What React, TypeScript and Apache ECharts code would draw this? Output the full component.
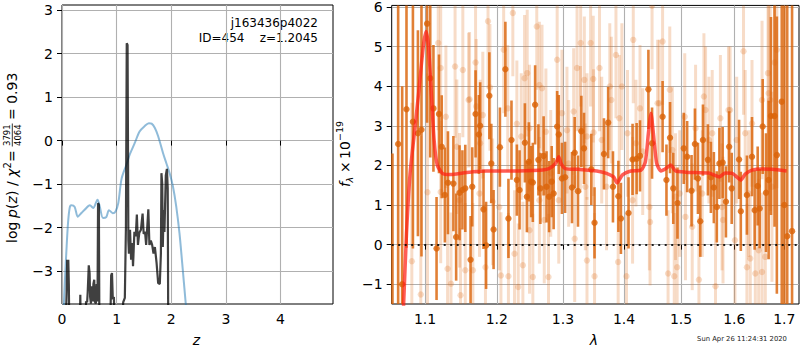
import React, { useEffect, useRef } from "react";
import * as echarts from "echarts";

const FONT = '"DejaVu Sans", sans-serif';

// ---- tick values ----
const zTicks = [0, 1, 2, 3, 4];
const pTicks = [-3, -2, -1, 0, 1, 2, 3];
const lamTicks = [1.1, 1.2, 1.3, 1.4, 1.5, 1.6, 1.7];
const fTicks = [-1, 0, 1, 2, 3, 4, 5, 6];

// ---- left panel: log p(z) curves ----
const blueZ = [0.02, 0.05, 0.08, 0.11, 0.14, 0.17, 0.23, 0.29, 0.36, 0.415, 0.51, 0.57, 0.65, 0.69, 0.75, 0.81, 0.86, 0.93, 0.98, 1.03, 1.09, 1.18, 1.24, 1.33, 1.42, 1.51, 1.59, 1.64, 1.70, 1.76, 1.85, 1.91, 1.97, 2.03, 2.09, 2.15, 2.20, 2.265, 2.32];
const blueLogP = [-4.2, -3.3, -2.55, -1.9, -1.55, -1.49, -1.52, -1.75, -1.66, -1.59, -1.49, -1.55, -1.36, -1.51, -1.78, -1.76, -1.6, -1.67, -1.63, -1.44, -0.88, -0.55, -0.32, -0.06, 0.21, 0.33, 0.40, 0.39, 0.29, 0.10, -0.29, -0.52, -0.75, -1.05, -1.51, -2.13, -2.82, -3.75, -4.5];

const greyZ = [0.06, 0.085, 0.095, 0.105, 0.115, 0.125, 0.135, 0.325, 0.335, 0.345, 0.43, 0.44, 0.46, 0.47, 0.49, 0.505, 0.515, 0.53, 0.545, 0.56, 0.575, 0.59, 0.6, 0.62, 0.635, 0.65, 0.66, 0.675, 0.685, 0.88, 0.9, 0.915, 0.93, 0.95, 0.965, 1.1, 1.12, 1.15, 1.17, 1.185, 1.2, 1.215, 1.225, 1.245, 1.265, 1.285, 1.3, 1.325, 1.35, 1.37, 1.39, 1.415, 1.445, 1.475, 1.495, 1.52, 1.54, 1.56, 1.58, 1.6, 1.625, 1.65, 1.675, 1.7, 1.73, 1.76, 1.79, 1.81, 1.82, 1.835, 1.845, 1.86, 1.875, 1.9, 1.92, 1.935, 1.945];
const greyLogP = [-4.5, -3.5, -2.74, -3.3, -2.74, -3.3, -4.5, -4.5, -3.55, -4.5, -4.5, -3.7, -3.72, -3.5, -2.87, -3.05, -3.6, -3.75, -3.35, -3.7, -3.3, -3.2, -3.7, -3.75, -3.3, -3.7, -1.44, -1.47, -4.5, -4.5, -3.1, -3.05, -3.65, -3.6, -4.5, -4.5, -3.72, -3.62, -2.0, 2.24, 2.2, -2.3, -2.6, -2.05, -2.74, -2.36, -2.89, -2.1, -2.2, -1.7, -2.4, -2.12, -2.05, -1.68, -2.15, -2.1, -2.4, -2.0, -1.58, -2.4, -2.3, -2.4, -2.6, -2.45, -2.8, -3.28, -3.3, -2.6, -0.75, -1.0, -2.45, -1.6, -2.1, -0.8, -0.65, -1.1, -4.5];

// ---- right panel: spectrum ----
const darkLam = [1.0575, 1.0648, 1.07, 1.0756, 1.084, 1.0906, 1.0953, 1.1028, 1.107, 1.1113, 1.1155, 1.1188, 1.1225, 1.1268, 1.131, 1.1385, 1.1423, 1.147, 1.151, 1.155, 1.1624, 1.1648, 1.1695, 1.1742, 1.176, 1.1808, 1.1845, 1.1892, 1.192, 1.1953, 1.2045, 1.2125, 1.217, 1.2215, 1.2295, 1.2335, 1.2415, 1.2445, 1.2475, 1.251, 1.2535, 1.257, 1.262, 1.265, 1.27, 1.2745, 1.2785, 1.2825, 1.2855, 1.291, 1.2935, 1.2985, 1.3035, 1.3144, 1.3187, 1.324, 1.3294, 1.3337, 1.3455, 1.3508, 1.3663, 1.3733, 1.3813, 1.3904, 1.3947, 1.4076, 1.4145, 1.4215, 1.4273, 1.4419, 1.4483, 1.4669, 1.4738, 1.4802, 1.486, 1.4936, 1.505, 1.5112, 1.5193, 1.5255, 1.5311, 1.5354, 1.5404, 1.5497, 1.5553, 1.5609, 1.5665, 1.5714, 1.5776, 1.5839, 1.5901, 1.595, 1.6093, 1.6127, 1.6247, 1.6347, 1.64, 1.646, 1.65, 1.656, 1.6627, 1.668, 1.6727, 1.68, 1.6847, 1.6947, 1.7, 1.706, 1.716];
const darkFlux = [-2.5, 2.54, -1.0, 3.42, 3.1, 2.81, 2.9, 5.58, 4.2, 3.44, -0.1, 3.3, 2.47, 1.25, 1.56, 1.54, 0.19, 1.31, 1.38, 1.42, -0.38, 1.46, 3.3, 2.78, 3.0, 0.89, -0.02, 3.76, 2.05, 0.38, 2.46, 4.43, 0.66, 2.64, 1.63, 1.38, 2.57, 1.21, 2.09, 1.59, 1.57, 3.53, 2.14, 1.42, 2.24, 1.46, 1.21, 1.59, 1.29, 2.98, 2.78, 1.67, 1.7, 1.44, 2.32, 1.35, 2.86, 2.43, 1.9, 0.55, 2.29, 3.08, 1.46, 1.22, 0.66, 0.8, 2.15, 2.17, 2.24, 3.92, 2.56, 3.23, 1.63, 2.7, 1.42, 1.05, 2.43, 2.22, 1.36, 2.54, 1.67, 0.59, 2.64, 2.14, 1.7, 1.44, 0.95, 2.05, 2.07, 1.08, 2.47, 1.42, 2.15, 0.84, 1.25, 2.22, 0.87, 1.48, 0.91, 2.98, 1.31, 1.63, 3.25, 3.25, 2.26, 3.61, 1.0, 0.21, 0.34];
const darkErr = [4.8, 4.5, 5.0, 3.5, 3.2, 2.6, 3.2, 2.5, 2.0, 1.6, 1.3, 1.5, 1.3, 1.2, 1.3, 1.2, 1.1, 1.2, 1.0, 1.1, 1.1, 1.0, 1.1, 1.0, 1.1, 1.0, 1.1, 1.1, 1.0, 1.0, 1.0, 1.2, 1.0, 1.0, 0.9, 1.0, 1.0, 0.9, 1.0, 0.9, 1.0, 1.0, 0.9, 0.9, 1.0, 0.9, 0.9, 0.9, 0.9, 0.9, 1.0, 0.9, 0.9, 0.9, 0.9, 0.9, 0.9, 0.9, 0.9, 0.9, 0.9, 0.9, 0.9, 0.9, 0.9, 0.9, 0.9, 0.9, 0.9, 1.0, 0.9, 0.9, 0.9, 0.9, 0.9, 0.9, 0.9, 0.9, 0.9, 0.9, 0.9, 0.9, 0.9, 0.9, 0.9, 0.9, 0.9, 0.9, 0.9, 0.9, 0.9, 0.9, 1.0, 1.0, 1.0, 1.0, 1.0, 1.0, 1.0, 1.2, 1.5, 2.0, 2.5, 2.8, 3.5, 6.0, 7.0, 6.0, 6.0];

const lightLam = [1.0826, 1.0944, 1.1033, 1.1178, 1.1211, 1.1282, 1.1305, 1.1352, 1.1408, 1.1432, 1.1484, 1.1516, 1.155, 1.1596, 1.1657, 1.1695, 1.176, 1.1836, 1.1873, 1.19, 1.1939, 1.206, 1.21, 1.217, 1.2235, 1.226, 1.2315, 1.2385, 1.241, 1.245, 1.2485, 1.2535, 1.2595, 1.2635, 1.2675, 1.271, 1.2775, 1.291, 1.2985, 1.3091, 1.3187, 1.3225, 1.3283, 1.3342, 1.3385, 1.3444, 1.3487, 1.3508, 1.359, 1.376, 1.3863, 1.39, 1.3963, 1.4041, 1.4157, 1.4273, 1.4448, 1.4483, 1.4581, 1.4669, 1.4767, 1.4797, 1.4878, 1.493, 1.4977, 1.5081, 1.5205, 1.5329, 1.5422, 1.5516, 1.564, 1.5783, 1.5919, 1.6013, 1.618, 1.6247, 1.6313, 1.6413, 1.648, 1.6547, 1.6613, 1.6667, 1.6713, 1.68, 1.6847,
  1.161, 1.1704, 1.1798, 1.216, 1.2295, 1.236, 1.2485, 1.2735, 1.281, 1.3064, 1.3171, 1.3278, 1.3385, 1.3492, 1.3626, 1.3786, 1.392, 1.4058, 1.4203, 1.432, 1.461, 1.4843, 1.5068, 1.5267, 1.5453, 1.5578, 1.5733, 1.5888, 1.6047, 1.6213, 1.6347, 1.6547, 1.668,
  1.1211, 1.147, 1.1751, 1.2035, 1.2635, 1.2935, 1.3358, 1.3706, 1.4145, 1.4436, 1.4901, 1.5391, 1.5764, 1.628, 1.6747];
const lightFlux = [-0.42, -1.26, 1.32, 5.09, 4.46, 3.23, -0.61, -0.99, 4.5, 2.47, -1.28, 4.41, -0.65, 3.65, -0.65, 4.6, 2.56, -0.57, 5.64, 3.97, 1.08, -0.78, 4.92, -0.8, 5.85, -0.23, -1.07, -0.52, 4.2, 4.33, 0.36, -0.82, 5.51, 4.03, 3.95, 0.62, -0.82, 4.67, 3.32, 2.05, 0.15, 4.46, 5.09, 4.16, -0.4, 5.09, 4.18, -0.8, 4.46, 3.99, 4.79, -0.44, 3.99, -0.8, 5.17, 3.44, 0.57, 6.03, 3.57, 5.13, -0.73, 3.91, -0.8, -0.57, 1.29, 0.7, 0.45, -0.89, 3.74, 2.64, -1.05, 0.62, 3.4, 0.11, 4.88, -0.57, -0.35, -0.73, -0.14, -0.69, -0.31, 4.33, 3.65, 4.6, 4.92,
  3.67, 3.49, 3.27, 3.44, 3.05, 2.73, 2.94, 2.85, 1.8, 2.89, 3.36, 2.91, 2.73, 2.83, 2.64, 3.65, 3.19, 2.81, 2.56, 2.35, 3.57, 2.39, 3.23, 2.94, 3.4, 2.81, 3.19, 3.4, 2.64, 2.81, 3.06, 3.65, 3.82,
  1.33, 1.12, 1.29, 0.95, 1.12, 1.12, 1.46, 1.46, 1.12, 0.95, 1.21, 1.29, 0.95, 1.29, 1.46];
const lightErr = [4.0, 4.0, 3.0, 2.2, 2.0, 1.8, 1.8, 1.8, 1.8, 1.7, 1.7, 1.7, 1.7, 1.7, 1.7, 1.7, 1.6, 1.6, 1.7, 1.6, 1.6, 1.6, 1.6, 1.6, 1.6, 1.6, 1.6, 1.6, 1.6, 1.6, 1.6, 1.6, 1.6, 1.6, 1.6, 1.6, 1.6, 1.6, 1.6, 1.6, 1.6, 1.6, 1.6, 1.6, 1.6, 1.6, 1.6, 1.6, 1.6, 1.6, 1.6, 1.6, 1.6, 1.6, 1.6, 1.6, 1.6, 1.6, 1.6, 1.6, 1.6, 1.6, 1.6, 1.6, 1.6, 1.6, 1.6, 1.6, 1.6, 1.6, 1.6, 1.6, 1.6, 1.6, 1.6, 1.6, 1.6, 1.7, 1.8, 2.0, 2.2, 2.5, 2.8, 3.2, 3.5,
  1.7, 1.7, 1.6, 1.6, 1.6, 1.6, 1.6, 1.6, 1.6, 1.6, 1.6, 1.6, 1.6, 1.6, 1.6, 1.6, 1.6, 1.6, 1.6, 1.6, 1.6, 1.6, 1.6, 1.6, 1.6, 1.6, 1.6, 1.6, 1.6, 1.6, 1.6, 2.0, 2.5,
  1.8, 1.7, 1.6, 1.6, 1.6, 1.6, 1.6, 1.6, 1.6, 1.6, 1.6, 1.6, 1.6, 1.6, 2.4];

const modelLam = [1.068, 1.0718, 1.0756, 1.0803, 1.0859, 1.0915, 1.0977, 1.1014, 1.1047, 1.1085, 1.1122, 1.1164, 1.1235, 1.1352, 1.1516, 1.1657, 1.1845, 1.2185, 1.2635, 1.2785, 1.2885, 1.2935, 1.297, 1.3037, 1.3251, 1.3545, 1.3706, 1.3824, 1.3882, 1.3973, 1.4116, 1.4291, 1.4366, 1.4419, 1.4465, 1.4506, 1.4564, 1.464, 1.4727, 1.4814, 1.4901, 1.5081, 1.5516, 1.5609, 1.5714, 1.5826, 1.5963, 1.6047, 1.6127, 1.6213, 1.6347, 1.6547, 1.6747, 1.7047];
const modelFlux = [-3.0, -1.54, 0.28, 1.8, 2.81, 3.82, 5.0, 5.38, 5.0, 3.82, 2.64, 2.01, 1.8, 1.77, 1.81, 1.84, 1.86, 1.86, 1.88, 1.92, 2.05, 2.22, 2.05, 1.92, 1.9, 1.86, 1.8, 1.71, 1.56, 1.76, 1.86, 1.88, 2.09, 2.81, 3.32, 2.81, 2.05, 1.86, 1.92, 2.01, 1.86, 1.83, 1.81, 1.76, 1.71, 1.81, 1.8, 1.71, 1.63, 1.78, 1.88, 1.91, 1.9, 1.86];

const LAM_MIN = 1.0565;
const LAM_MAX = 1.7305;

const minus = (v: number) => (v < 0 ? "\u2212" + Math.abs(v) : String(v));

function errRender(color: string, lw: number, r: number) {
  return (params: any, api: any) => {
    const x = api.value(0);
    const y = api.value(1);
    const e = api.value(2);
    const p = api.coord([x, y]);
    const t = api.coord([x, y + e]);
    const b = api.coord([x, y - e]);
    return {
      type: "group",
      children: [
        { type: "line", shape: { x1: p[0], y1: t[1], x2: p[0], y2: b[1] }, style: { stroke: color, lineWidth: lw } },
        { type: "circle", shape: { cx: p[0], cy: p[1], r }, style: { fill: color } },
      ],
    };
  };
}

export default function App() {
  const ref = useRef<HTMLDivElement>(null);
  useEffect(() => {
    if (!ref.current) return;
    const chart = echarts.init(ref.current, undefined, { renderer: "svg" });
    const gridLine = { show: true, lineStyle: { color: "#b0b0b0", width: 1.1 } };
    const tick = (vals: number[]) => ({ show: true, length: 5, customValues: vals, lineStyle: { color: "#000", width: 1 } });
    const lbl = (vals: number[], margin: number, fmt: (v: number) => string) => ({
      customValues: vals, margin, color: "#000", fontSize: 14, fontFamily: FONT, formatter: fmt,
    });
    const option: any = {
      animation: false,
      grid: [
        { left: 62, top: 5, width: 271, height: 299, show: true, borderColor: "#000", borderWidth: 1, backgroundColor: "transparent" },
        { left: 391.7, top: 5, width: 407.3, height: 299, show: true, borderColor: "#000", borderWidth: 1, backgroundColor: "transparent" },
      ],
      xAxis: [
        {
          gridIndex: 0, type: "value", min: 0, max: 4.96,
          axisLine: { show: false }, axisTick: tick(zTicks), axisLabel: lbl(zTicks, 8, (v: number) => String(v)),
          splitLine: gridLine,
        },
        {
          gridIndex: 1, type: "value", min: Math.log(LAM_MIN), max: Math.log(LAM_MAX),
          axisLine: { show: false }, axisTick: tick(lamTicks.map(Math.log)),
          axisLabel: lbl(lamTicks.map(Math.log), 8, (v: number) => Math.exp(v).toFixed(1)),
          splitLine: gridLine,
        },
      ],
      yAxis: [
        {
          gridIndex: 0, type: "value", min: -3.76, max: 3.12,
          axisLine: { show: false }, axisTick: tick(pTicks), axisLabel: lbl(pTicks, 9, minus),
          splitLine: gridLine,
        },
        {
          gridIndex: 1, type: "value", min: -1.5, max: 6.04,
          axisLine: { show: false }, axisTick: tick(fTicks), axisLabel: lbl(fTicks, 9, minus),
          splitLine: gridLine,
        },
      ],
      series: [
        {
          type: "line", xAxisIndex: 0, yAxisIndex: 0, showSymbol: false, smooth: 0.3,
          data: blueZ.map((z, i) => [z, blueLogP[i]]),
          lineStyle: { color: "rgba(31,119,180,0.5)", width: 2 }, clip: true,
        },
        {
          type: "line", xAxisIndex: 0, yAxisIndex: 0, showSymbol: false,
          data: greyZ.map((z, i) => [z, greyLogP[i]]),
          lineStyle: { color: "rgba(0,0,0,0.75)", width: 2.2 }, clip: true,
        },
        {
          type: "custom", xAxisIndex: 1, yAxisIndex: 1, clip: true,
          data: lightLam.map((l, i) => [Math.log(l), lightFlux[i], lightErr[i]]),
          encode: { x: 0, y: 1 },
          renderItem: errRender("rgba(222,110,25,0.24)", 3, 3.2),
        },
        {
          type: "custom", xAxisIndex: 1, yAxisIndex: 1, clip: true,
          data: darkLam.map((l, i) => [Math.log(l), darkFlux[i], darkErr[i]]),
          encode: { x: 0, y: 1 },
          renderItem: errRender("rgba(218,100,10,0.82)", 2.6, 3.2),
        },
        {
          type: "line", xAxisIndex: 1, yAxisIndex: 1, showSymbol: false, smooth: 0.2,
          data: modelLam.map((l, i) => [Math.log(l), modelFlux[i]]),
          lineStyle: { color: "rgba(255,30,20,0.72)", width: 3.5 }, clip: true,
          markLine: {
            silent: true, symbol: "none", label: { show: false },
            lineStyle: { color: "#000", width: 2, type: [2, 4.5], opacity: 0.85 },
            data: [{ yAxis: 0 }],
          },
        },
      ],
      graphic: [
        { type: "text", x: 318, y: 22.7, style: { text: "j163436p4022", fill: "#000", font: `12px ${FONT}`, align: "right", verticalAlign: "middle" } },
        { type: "text", x: 318, y: 37.5, style: { text: "ID=454    z=1.2045", fill: "#000", font: `12px ${FONT}`, align: "right", verticalAlign: "middle" } },
        { type: "text", x: 196.5, y: 340, style: { text: "z", fill: "#000", font: `italic 14px ${FONT}`, align: "center", verticalAlign: "middle" } },
        { type: "text", x: 594, y: 340, style: { text: "λ", fill: "#000", font: `italic 14px ${FONT}`, align: "center", verticalAlign: "middle" } },
        { type: "text", x: 742, y: 339, style: { text: "Sun Apr 26 11:24:31 2020", fill: "#222", font: `6.8px ${FONT}`, align: "center", verticalAlign: "middle" } },
        {
          type: "group", x: 12, y: 243, rotation: Math.PI / 2,
          children: [
            { type: "text", x: 0, y: 0, style: { text: "log ", fill: "#000", font: `14px ${FONT}`, align: "left", verticalAlign: "middle" } },
            { type: "text", x: 25, y: 0, style: { text: "p", fill: "#000", font: `italic 14px ${FONT}`, align: "left", verticalAlign: "middle" } },
            { type: "text", x: 34, y: 0, style: { text: "(", fill: "#000", font: `14px ${FONT}`, align: "left", verticalAlign: "middle" } },
            { type: "text", x: 39.5, y: 0, style: { text: "z", fill: "#000", font: `italic 14px ${FONT}`, align: "left", verticalAlign: "middle" } },
            { type: "text", x: 47, y: 0, style: { text: ") / ", fill: "#000", font: `14px ${FONT}`, align: "left", verticalAlign: "middle" } },
            { type: "text", x: 66, y: 0, style: { text: "χ", fill: "#000", font: `italic 14px ${FONT}`, align: "left", verticalAlign: "middle" } },
            { type: "text", x: 74.5, y: -5, style: { text: "2", fill: "#000", font: `10px ${FONT}`, align: "left", verticalAlign: "middle" } },
            { type: "text", x: 81, y: 0, style: { text: "=", fill: "#000", font: `14px ${FONT}`, align: "left", verticalAlign: "middle" } },
            { type: "text", x: 97, y: -5.5, style: { text: "3791", fill: "#000", font: `8.5px ${FONT}`, align: "left", verticalAlign: "middle" } },
            { type: "line", shape: { x1: 96.5, y1: 0.3, x2: 119.5, y2: 0.3 }, style: { stroke: "#000", lineWidth: 0.8 } },
            { type: "text", x: 97, y: 6, style: { text: "4064", fill: "#000", font: `8.5px ${FONT}`, align: "left", verticalAlign: "middle" } },
            { type: "text", x: 123, y: 0, style: { text: "= 0.93", fill: "#000", font: `14px ${FONT}`, align: "left", verticalAlign: "middle" } },
          ],
        },
        {
          type: "group", x: 345, y: 187, rotation: Math.PI / 2,
          children: [
            { type: "text", x: 0, y: 0, style: { text: "f", fill: "#000", font: `italic 14px ${FONT}`, align: "left", verticalAlign: "middle" } },
            { type: "text", x: 4.5, y: 4, style: { text: "λ", fill: "#000", font: `italic 9.5px ${FONT}`, align: "left", verticalAlign: "middle" } },
            { type: "text", x: 14, y: 0, style: { text: "×", fill: "#000", font: `14px ${FONT}`, align: "left", verticalAlign: "middle" } },
            { type: "text", x: 28, y: 0, style: { text: "10", fill: "#000", font: `14px ${FONT}`, align: "left", verticalAlign: "middle" } },
            { type: "text", x: 46, y: -5.5, style: { text: "\u221219", fill: "#000", font: `9.5px ${FONT}`, align: "left", verticalAlign: "middle" } },
          ],
        },
      ],
    };
    chart.setOption(option);
    return () => chart.dispose();
  }, []);
  return <div ref={ref} style={{ position: "fixed", left: 0, top: 0, width: 800, height: 350, background: "#fff" }} />;
}
